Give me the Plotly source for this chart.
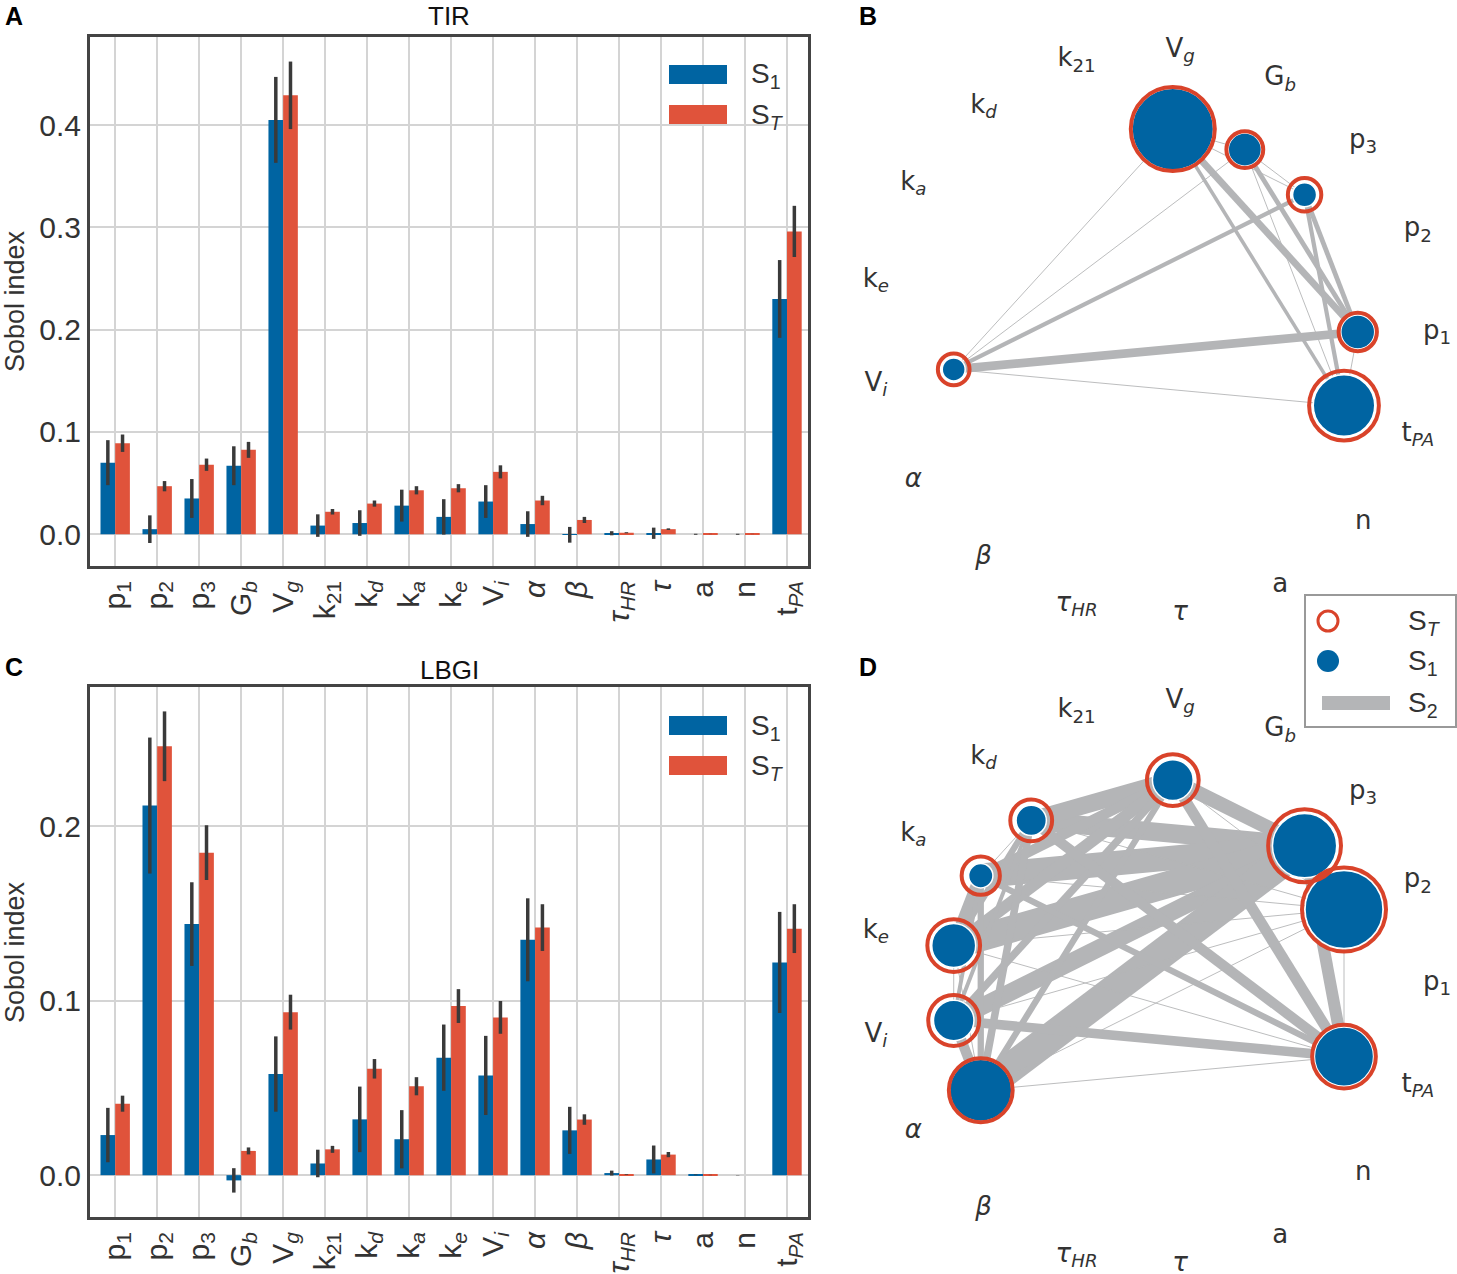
import numpy as np
import plotly.graph_objects as go

W, H = 1457, 1274

# parameter names (short keys) and their rendered labels
keys = ["p1", "p2", "p3", "Gb", "Vg", "k21", "kd", "ka", "ke", "Vi",
        "alpha", "beta", "tauHR", "tau", "a", "n", "tPA"]
labels = ["p<sub>1</sub>", "p<sub>2</sub>", "p<sub>3</sub>", "G<sub><i>b</i></sub>",
          "V<sub><i>g</i></sub>", "k<sub>21</sub>", "k<sub><i>d</i></sub>",
          "k<sub><i>a</i></sub>", "k<sub><i>e</i></sub>", "V<sub><i>i</i></sub>",
          "<i>α</i>", "<i>β</i>", "<i>τ</i><sub><i>HR</i></sub>", "<i>τ</i>",
          "a", "n", "t<sub><i>PA</i></sub>"]

# TIR
tir_s1 = [0.070, 0.005, 0.035, 0.067, 0.405, 0.0085, 0.011, 0.028, 0.017, 0.032,
          0.010, -0.0005, 0.001, 0.001, 0.0, 0.0, 0.230]
tir_s1_conf = [0.022, 0.0135, 0.019, 0.019, 0.042, 0.011, 0.0125, 0.0156, 0.0173, 0.016,
               0.0125, 0.0077, 0.002, 0.0055, 0.0005, 0.0005, 0.038]
tir_st = [0.089, 0.047, 0.068, 0.0825, 0.429, 0.022, 0.030, 0.043, 0.045, 0.061,
          0.033, 0.014, 0.0015, 0.005, 0.0003, 0.0003, 0.296]
tir_st_conf = [0.0085, 0.005, 0.006, 0.0078, 0.033, 0.0027, 0.003, 0.004, 0.004, 0.0064,
               0.0046, 0.003, 0.0005, 0.0008, 0.0001, 0.0001, 0.025]
tir_s2 = [("Vi", "p1", 0.029), ("Vi", "p3", 0.014), ("Vi", "Vg", 0.003), ("Vi", "Gb", 0.003),
          ("Vi", "tPA", 0.003), ("Vg", "p1", 0.023), ("Vg", "tPA", 0.012), ("Vg", "Gb", 0.003),
          ("Vg", "p3", 0.003), ("Gb", "p1", 0.016), ("Gb", "tPA", 0.003), ("Gb", "p3", 0.003),
          ("p3", "p1", 0.016), ("p3", "tPA", 0.014), ("p1", "tPA", 0.003)]

# LBGI
lbgi_s1 = [0.023, 0.212, 0.144, -0.003, 0.058, 0.0067, 0.032, 0.0206, 0.0674, 0.0572,
           0.135, 0.0257, 0.0012, 0.009, 0.0002, 0.0, 0.122]
lbgi_s1_conf = [0.0156, 0.039, 0.024, 0.007, 0.0216, 0.0079, 0.0188, 0.0167, 0.019, 0.0227,
                0.0238, 0.0135, 0.0014, 0.008, 0.0002, 0.0001, 0.029]
lbgi_st = [0.041, 0.246, 0.185, 0.0139, 0.0935, 0.0148, 0.061, 0.051, 0.097, 0.0905,
           0.142, 0.0319, 0.0003, 0.0118, 0.0001, 0.0, 0.1414]
lbgi_st_conf = [0.0046, 0.02, 0.0157, 0.002, 0.01, 0.002, 0.0056, 0.0052, 0.0097, 0.0094,
                0.0134, 0.003, 0.0002, 0.0015, 0.0001, 0.0, 0.014]
lbgi_s2 = [("p3", "Vg", 0.048), ("p3", "kd", 0.062), ("p3", "ka", 0.082), ("p3", "ke", 0.090),
           ("p3", "Vi", 0.058), ("p3", "alpha", 0.100), ("p3", "tPA", 0.040), ("p3", "p2", 0.012),
           ("p2", "tPA", 0.003), ("p2", "ke", 0.003), ("p2", "Vi", 0.003), ("p2", "alpha", 0.003),
           ("p2", "ka", 0.003), ("p2", "kd", 0.003), ("p2", "Vg", 0.003),
           ("Vg", "kd", 0.058), ("Vg", "ka", 0.034), ("Vg", "ke", 0.040), ("Vg", "Vi", 0.025),
           ("Vg", "alpha", 0.021), ("Vg", "tPA", 0.036),
           ("kd", "tPA", 0.034), ("ka", "tPA", 0.021), ("ke", "tPA", 0.003), ("Vi", "tPA", 0.032),
           ("alpha", "tPA", 0.003), ("kd", "ka", 0.003), ("kd", "ke", 0.021), ("kd", "Vi", 0.013),
           ("kd", "alpha", 0.025), ("ka", "ke", 0.042), ("ka", "Vi", 0.013), ("ka", "alpha", 0.021),
           ("ke", "Vi", 0.003), ("ke", "alpha", 0.003), ("Vi", "alpha", 0.034)]

BLUE = "#0064a2"
RED = "#e0533b"
RING = "#d9432a"
GREY = "#b4b5b7"
DARK = "#3a3a3a"
TXT = "#333333"
ST_MIN = 0.05  # only parameters above this total index get a node


def px(x):
    return x / W


def py(y):
    return 1 - y / H


fig = go.Figure()

# ---- bar panels A and C ----
for ax, s1, s1c, st, stc in [("", tir_s1, tir_s1_conf, tir_st, tir_st_conf),
                             ("2", lbgi_s1, lbgi_s1_conf, lbgi_st, lbgi_st_conf)]:
    xs = list(range(len(keys)))
    fig.add_trace(go.Bar(x=xs, y=s1, marker=dict(color=BLUE, line=dict(width=0)),
                         error_y=dict(type="data", array=s1c, thickness=3.5, width=0, color=DARK),
                         xaxis="x" + ax, yaxis="y" + ax, showlegend=False))
    fig.add_trace(go.Bar(x=xs, y=st, marker=dict(color=RED, line=dict(width=0)),
                         error_y=dict(type="data", array=stc, thickness=3.5, width=0, color=DARK),
                         xaxis="x" + ax, yaxis="y" + ax, showlegend=False))

# ---- network panels B and D ----
ang = 2 * np.pi * np.arange(len(keys)) / len(keys)
r_node = 0.72
nx_, ny_ = r_node * np.cos(ang), r_node * np.sin(ang)
lx, ly = np.cos(ang), np.sin(ang)

for ax, s1, st, s2 in [("3", tir_s1, tir_st, tir_s2), ("4", lbgi_s1, lbgi_st, lbgi_s2)]:
    smax = max(st)
    for a, b, v in s2:
        i, j = keys.index(a), keys.index(b)
        fig.add_trace(go.Scatter(x=[nx_[i], nx_[j]], y=[ny_[i], ny_[j]], mode="lines",
                                 line=dict(color=GREY, width=v * 300),
                                 xaxis="x" + ax, yaxis="y" + ax, showlegend=False, hoverinfo="skip"))
    shown = [k for k in range(len(keys)) if st[k] > ST_MIN]
    fig.add_trace(go.Scatter(
        x=[nx_[k] for k in shown], y=[ny_[k] for k in shown], mode="markers",
        marker=dict(size=[84 * np.sqrt(max(s1[k], 0) / smax) for k in shown], color=BLUE,
                    line=dict(color="white", width=1.5), opacity=1),
        xaxis="x" + ax, yaxis="y" + ax, showlegend=False))
    fig.add_trace(go.Scatter(
        x=[nx_[k] for k in shown], y=[ny_[k] for k in shown], mode="markers",
        marker=dict(size=[84 * np.sqrt(st[k] / smax) for k in shown], symbol="circle-open",
                    color=RING, opacity=1, line=dict(color=RING, width=4)),
        xaxis="x" + ax, yaxis="y" + ax, showlegend=False))
    fig.add_trace(go.Scatter(x=lx, y=ly, mode="text", text=labels,
                             textfont=dict(family="DejaVu Sans", size=26, color=TXT),
                             cliponaxis=False, xaxis="x" + ax, yaxis="y" + ax,
                             showlegend=False, hoverinfo="skip"))

tfont = dict(family="Liberation Sans, Arial", size=30, color=TXT)
bar_x = dict(domain=[px(90), px(808)], range=[-0.6, 16.5], tickvals=list(range(len(keys))),
             ticktext=labels, tickangle=-90, showgrid=True, gridcolor="#d4d4d4", gridwidth=1.5,
             showline=True, mirror=True, linecolor="#444444", linewidth=3, ticks="",
             zeroline=False, tickfont=tfont)
bar_y = dict(showgrid=True, gridcolor="#d4d4d4", gridwidth=1.5, showline=True, mirror=True,
             linecolor="#444444", linewidth=3, ticks="", zeroline=False, tick0=0, dtick=0.1,
             tickformat=".1f", tickfont=tfont)

c_b = (1154, 332)
c_d = (1154, 983)
scale = 283.0
net_x = dict(domain=[px(850), 1], range=[(850 - 1154) / scale, (W - 1154) / scale],
             visible=False)

fig.update_layout(
    width=W, height=H, margin=dict(l=0, r=0, t=0, b=0),
    plot_bgcolor="white", paper_bgcolor="white",
    barmode="group", bargap=0.3, bargroupgap=0, showlegend=False,
    xaxis=dict(bar_x, anchor="y"),
    yaxis=dict(bar_y, domain=[py(566), py(37)], range=[-0.031, 0.486], anchor="x"),
    xaxis2=dict(bar_x, anchor="y2"),
    yaxis2=dict(bar_y, domain=[py(1217), py(687)], range=[-0.024, 0.280], anchor="x2"),
    xaxis3=dict(net_x, anchor="y3"),
    yaxis3=dict(domain=[py(640), py(8)], range=[(c_b[1] - 640) / scale, (c_b[1] - 8) / scale],
                visible=False, anchor="x3"),
    xaxis4=dict(net_x, anchor="y4"),
    yaxis4=dict(domain=[0, py(655)], range=[(c_d[1] - H) / scale, (c_d[1] - 655) / scale],
                visible=False, anchor="x4"),
)

shapes = []
ann = []
font = dict(family="Liberation Sans, Arial", size=28, color=TXT)

# bar legends
for dy in [0, 651]:
    shapes.append(dict(type="rect", xref="paper", yref="paper", x0=px(669), x1=px(727),
                       y0=py(65 + dy), y1=py(84 + dy), fillcolor=BLUE, line=dict(width=0)))
    shapes.append(dict(type="rect", xref="paper", yref="paper", x0=px(669), x1=px(727),
                       y0=py(105 + dy), y1=py(124 + dy), fillcolor=RED, line=dict(width=0)))
    ann.append(dict(x=px(749), y=py(76 + dy), text="S<sub>1</sub>", xanchor="left"))
    ann.append(dict(x=px(749), y=py(116 + dy), text="S<sub><i>T</i></sub>", xanchor="left"))

# network legend
shapes.append(dict(type="rect", xref="paper", yref="paper", x0=px(1305), x1=px(1456),
                   y0=py(727), y1=py(595), line=dict(color="#999999", width=2),
                   fillcolor="white"))
shapes.append(dict(type="circle", xref="paper", yref="paper", x0=px(1318), x1=px(1338),
                   y0=py(631), y1=py(611), line=dict(color=RING, width=3)))
shapes.append(dict(type="circle", xref="paper", yref="paper", x0=px(1317), x1=px(1339),
                   y0=py(672), y1=py(650), fillcolor=BLUE, line=dict(width=0)))
shapes.append(dict(type="line", xref="paper", yref="paper", x0=px(1322), x1=px(1390),
                   y0=py(703), y1=py(703), line=dict(color=GREY, width=14)))
ann.append(dict(x=px(1406), y=py(622), text="S<sub><i>T</i></sub>", xanchor="left"))
ann.append(dict(x=px(1406), y=py(662), text="S<sub>1</sub>", xanchor="left"))
ann.append(dict(x=px(1406), y=py(704), text="S<sub>2</sub>", xanchor="left"))

# titles, axis titles, panel letters
ann.append(dict(x=px(449), y=py(16), text="TIR", font=dict(font, size=26, color="#111111")))
ann.append(dict(x=px(449), y=py(670), text="LBGI", font=dict(font, size=26, color="#111111")))
ann.append(dict(x=px(15), y=py(301), text="Sobol index", textangle=-90,
                font=dict(font, size=27)))
ann.append(dict(x=px(15), y=py(952), text="Sobol index", textangle=-90,
                font=dict(font, size=27)))
for t, x, y in [("A", 14, 16), ("B", 868, 16), ("C", 14, 667), ("D", 868, 667)]:
    ann.append(dict(x=px(x), y=py(y), text="<b>" + t + "</b>",
                    font=dict(family="Liberation Sans, Arial", size=25, color="black")))

for a in ann:
    a.setdefault("xref", "paper")
    a.setdefault("yref", "paper")
    a.setdefault("showarrow", False)
    a.setdefault("font", font)
    a.setdefault("xanchor", "center")
    a.setdefault("yanchor", "middle")

fig.update_layout(shapes=shapes, annotations=ann)
# the page's default body margin would push the figure 8px off
fig.write_html("out.html", config={"displayModeBar": False},
               post_script="document.body.style.margin='0px';")
